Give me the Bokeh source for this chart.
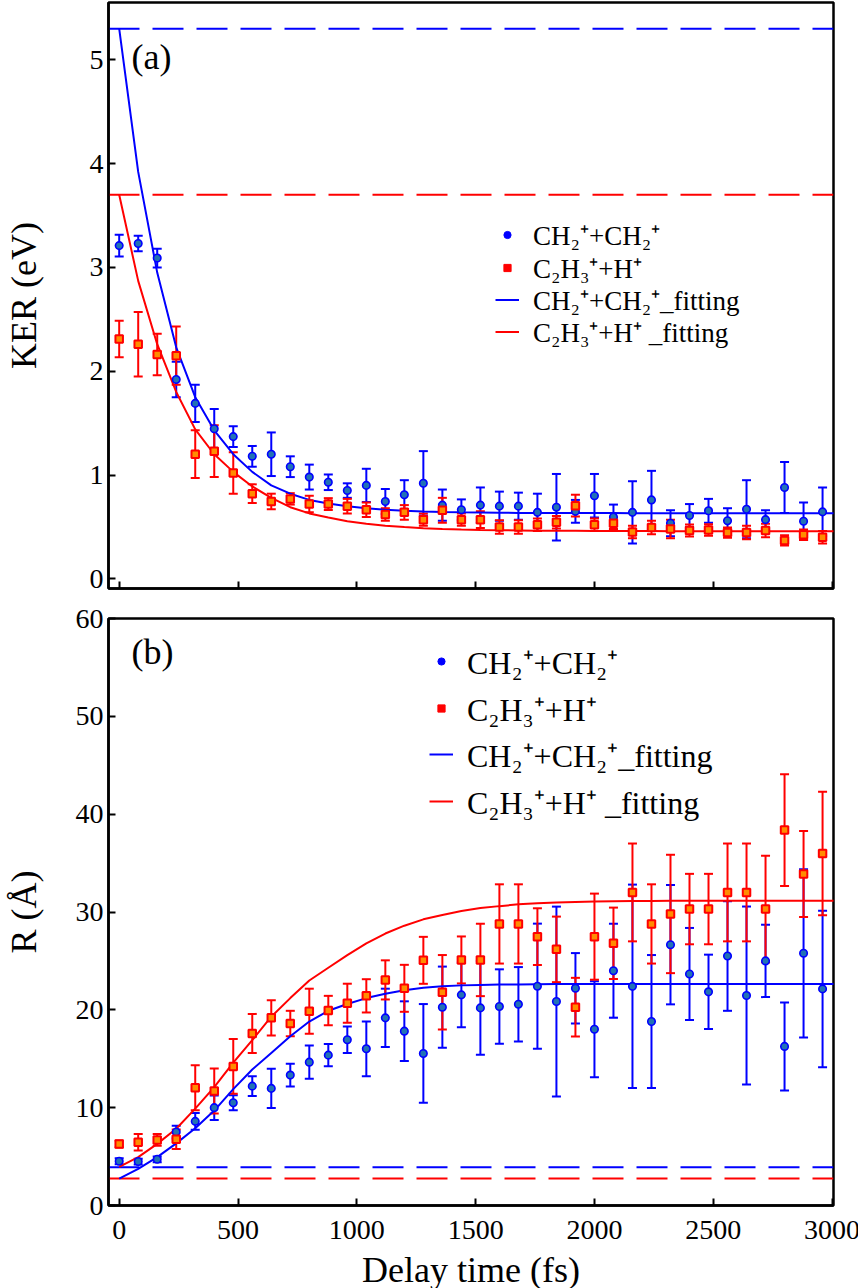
from bokeh.plotting import figure
from bokeh.layouts import column
from bokeh.models import (ColumnDataSource, Whisker, TeeHead, Span, Legend,
                          LegendItem, Label, Range1d, FixedTicker)
from bokeh.embed import file_html
from bokeh.resources import INLINE

# ---------------- data ----------------
time_fs = [0, 80, 160, 240, 320, 400, 480, 560, 640, 720, 800, 880, 960, 1040,
           1120, 1200, 1280, 1360, 1440, 1520, 1600, 1680, 1760, 1840, 1920,
           2000, 2080, 2160, 2240, 2320, 2400, 2480, 2560, 2640, 2720, 2800,
           2880, 2960]

ker_ch2 = [3.21, 3.23, 3.09, 1.92, 1.69, 1.445, 1.37, 1.18, 1.20, 1.08, 0.98,
           0.93, 0.85, 0.90, 0.745, 0.81, 0.92, 0.71, 0.665, 0.71, 0.70, 0.70,
           0.64, 0.69, 0.65, 0.80, 0.595, 0.64, 0.76, 0.535, 0.61, 0.655, 0.56,
           0.67, 0.57, 0.88, 0.555, 0.645]
ker_ch2_err = [0.105, 0.075, 0.09, 0.17, 0.18, 0.19, 0.10, 0.10, 0.21, 0.10,
               0.12, 0.075, 0.07, 0.16, 0.12, 0.14, 0.31, 0.15, 0.10, 0.17,
               0.14, 0.13, 0.18, 0.32, 0.11, 0.21, 0.12, 0.30, 0.28, 0.125,
               0.11, 0.115, 0.12, 0.28, 0.09, 0.245, 0.18, 0.235]
ker_c2h3 = [2.31, 2.26, 2.16, 2.15, 1.20, 1.23, 1.02, 0.82, 0.745, 0.77, 0.72,
            0.72, 0.70, 0.665, 0.62, 0.64, 0.57, 0.66, 0.57, 0.57, 0.50, 0.50,
            0.52, 0.545, 0.705, 0.52, 0.535, 0.45, 0.495, 0.48, 0.465, 0.47,
            0.445, 0.445, 0.465, 0.37, 0.425, 0.40]
ker_c2h3_err = [0.175, 0.31, 0.20, 0.28, 0.23, 0.25, 0.20, 0.09, 0.075, 0.055,
                0.08, 0.057, 0.07, 0.07, 0.06, 0.07, 0.06, 0.12, 0.06, 0.08,
                0.065, 0.065, 0.06, 0.06, 0.105, 0.06, 0.055, 0.06, 0.065,
                0.09, 0.058, 0.056, 0.05, 0.065, 0.065, 0.05, 0.05, 0.06]

r_ch2 = [4.52, 4.49, 4.72, 7.51, 8.6, 10.0, 10.51, 12.2, 11.97, 13.33, 14.65,
         15.37, 16.94, 16.02, 19.18, 17.82, 15.54, 20.27, 21.53, 20.2, 20.34,
         20.57, 22.41, 20.85, 22.2, 18.02, 24.0, 22.4, 18.8, 26.66, 23.67,
         21.84, 25.5, 21.46, 25.0, 16.26, 25.78, 22.14]
r_ch2_err = [0.3, 0.3, 0.3, 0.65, 0.85, 1.25, 0.77, 1.0, 2.0, 1.16, 1.7, 1.14,
             1.36, 2.8, 2.98, 3.05, 5.05, 4.15, 3.3, 4.8, 3.8, 3.8, 6.4, 9.7,
             3.6, 4.9, 4.8, 10.4, 6.8, 6.1, 4.7, 3.8, 5.6, 9.1, 3.7, 4.5, 8.6,
             8.0]
r_c2h3 = [6.29, 6.46, 6.7, 6.77, 12.04, 11.7, 14.21, 17.58, 19.18, 18.6, 19.86,
          19.93, 20.67, 21.43, 23.06, 22.2, 25.06, 21.8, 25.1, 25.1, 28.78,
          28.78, 27.48, 26.18, 20.27, 27.48, 26.8, 32.0, 28.78, 29.8, 30.3,
          30.3, 32.0, 32.0, 30.3, 38.37, 33.88, 35.98]
r_c2h3_err = [0.35, 0.85, 0.6, 1.0, 2.3, 2.3, 2.8, 2.0, 1.8, 1.3, 2.3, 1.5, 2.0,
              1.7, 2.0, 2.4, 2.4, 3.8, 2.4, 3.7, 4.05, 4.05, 2.9, 3.35, 3.0,
              4.4, 3.65, 5.0, 4.05, 6.05, 3.6, 3.6, 5.0, 5.0, 5.45, 5.7, 4.4,
              6.3]

fit_time = time_fs + [3040]
ker_ch2_fit = [5.30, 3.92, 2.95, 2.23, 1.75, 1.43, 1.20, 1.03, 0.90, 0.82, 0.76,
               0.725, 0.70, 0.68, 0.665, 0.655, 0.648, 0.643, 0.640, 0.638,
               0.636, 0.635, 0.634, 0.634, 0.633, 0.633, 0.633, 0.632, 0.632,
               0.632, 0.632, 0.632, 0.632, 0.632, 0.632, 0.632, 0.632, 0.632,
               0.632]
ker_c2h3_fit = [3.70, 2.87, 2.26, 1.80, 1.44, 1.20, 1.03, 0.89, 0.78, 0.69,
                0.63, 0.59, 0.555, 0.53, 0.512, 0.498, 0.488, 0.481, 0.475,
                0.471, 0.468, 0.466, 0.464, 0.463, 0.462, 0.461, 0.460, 0.460,
                0.460, 0.459, 0.459, 0.459, 0.459, 0.459, 0.459, 0.459, 0.459,
                0.459, 0.459]
r_ch2_fit = [2.75, 3.75, 4.95, 6.35, 7.9, 9.7, 11.9, 13.9, 15.6, 17.3, 18.8,
             19.9, 20.6, 21.2, 21.65, 22.0, 22.25, 22.4, 22.5, 22.55, 22.58,
             22.6, 22.62, 22.63, 22.64, 22.64, 22.65, 22.65, 22.65, 22.65,
             22.65, 22.65, 22.65, 22.65, 22.65, 22.65, 22.65, 22.65, 22.65]
r_c2h3_fit = [3.95, 4.95, 6.3, 7.85, 9.9, 12.1, 14.6, 16.9, 19.3, 21.2, 23.0,
              24.3, 25.6, 26.8, 27.8, 28.6, 29.25, 29.7, 30.1, 30.4, 30.6,
              30.78, 30.9, 30.98, 31.03, 31.07, 31.1, 31.12, 31.13, 31.14,
              31.15, 31.15, 31.15, 31.15, 31.15, 31.15, 31.15, 31.15, 31.15]

ker_limit_ch2 = 5.3
ker_limit_c2h3 = 3.7
r_limit_ch2 = 3.9
r_limit_c2h3 = 2.75

labels = ["CH\u2082\u207a+CH\u2082\u207a",
          "C\u2082H\u2083\u207a+H\u207a",
          "CH\u2082\u207a+CH\u2082\u207a_fitting",
          "C\u2082H\u2083\u207a+H\u207a _fitting"]
x_ticks = [0, 500, 1000, 1500, 2000, 2500, 3000]

# ---------------- style ----------------
FONT = "Liberation Serif"
BLUE = "#0000ff"
RED = "#ff0000"
BLUE_FILL = "#2272b4"
ORANGE = "#ff8c00"
NAN = float("nan")


def legend_row(p, renderer, label, x, vy, gw, standoff, row_h, font_size):
    p.add_layout(Legend(items=[LegendItem(label=label, renderers=[renderer])],
                        location=(x, vy), orientation="vertical",
                        glyph_width=gw, glyph_height=row_h, label_height=row_h,
                        label_standoff=standoff, spacing=0, padding=0, margin=0,
                        border_line_color=None, background_fill_alpha=0,
                        label_text_font=FONT, label_text_font_size=font_size,
                        label_text_color="black"))


def make_panel(y_rng, y_ticks, y_label, blue, blue_err, red, red_err,
               blue_fit, red_fit, lim_blue, lim_red, show_x, border_top,
               border_bottom, frame_h, y_label_standoff, leg_x, leg_centers,
               leg_font, row_h, tag, tag_xy):
    p = figure(frame_width=725, frame_height=frame_h,
               x_range=Range1d(-45, 3006), y_range=Range1d(*y_rng),
               output_backend="svg", toolbar_location=None,
               min_border_left=102, min_border_right=31,
               min_border_top=border_top, min_border_bottom=border_bottom,
               background_fill_color="white", border_fill_color="white")
    p.grid.grid_line_color = None
    p.outline_line_color = "black"
    p.outline_line_width = 2.5
    p.outline_line_alpha = 1

    for ax in (p.xaxis[0], p.yaxis[0]):
        ax.axis_line_width = 2.5
        ax.axis_line_color = "black"
        ax.major_tick_in = 7
        ax.major_tick_out = 0
        ax.major_tick_line_width = 2
        ax.major_tick_line_color = "black"
        ax.minor_tick_line_color = None
        ax.major_label_text_font = FONT
        ax.major_label_text_font_size = "28px"
        ax.major_label_text_color = "black"
        ax.axis_label_text_font = FONT
        ax.axis_label_text_font_size = "36px"
        ax.axis_label_text_font_style = "normal"
        ax.axis_label_text_color = "black"
    p.xaxis.ticker = FixedTicker(ticks=x_ticks)
    p.yaxis.ticker = FixedTicker(ticks=y_ticks)
    p.yaxis.axis_label = y_label
    p.yaxis.axis_label_standoff = y_label_standoff
    if show_x:
        p.xaxis.axis_label = "Delay time (fs)"
        p.xaxis.major_label_standoff = 15
        p.xaxis.axis_label_standoff = 8
    else:
        p.xaxis.major_label_text_font_size = "0px"
        p.xaxis.major_label_text_color = None
        p.xaxis.major_label_standoff = 0

    # dashed limits
    for loc, col in ((lim_blue, BLUE), (lim_red, RED)):
        p.add_layout(Span(location=loc, dimension="width", line_color=col,
                          line_width=2, line_dash="31 13", level="underlay"))

    # fits
    r_fit_b = p.line(fit_time, blue_fit, line_color=BLUE, line_width=2)
    r_fit_r = p.line(fit_time, red_fit, line_color=RED, line_width=2)

    # error bars + points
    src_b = ColumnDataSource(dict(
        x=time_fs, y=blue,
        upper=[v + e for v, e in zip(blue, blue_err)],
        lower=[v - e for v, e in zip(blue, blue_err)]))
    src_r = ColumnDataSource(dict(
        x=time_fs, y=red,
        upper=[v + e for v, e in zip(red, red_err)],
        lower=[v - e for v, e in zip(red, red_err)]))
    for src, col in ((src_b, BLUE), (src_r, RED)):
        p.add_layout(Whisker(source=src, base="x", upper="upper", lower="lower",
                             line_color=col, line_width=2, level="underlay",
                             upper_head=TeeHead(size=9, line_color=col, line_width=2),
                             lower_head=TeeHead(size=9, line_color=col, line_width=2)))
    p.scatter("x", "y", source=src_b, marker="circle", size=7.5,
              fill_color=BLUE_FILL, line_color=BLUE, line_width=1.6)
    p.scatter("x", "y", source=src_r, marker="square", size=7.5,
              fill_color=ORANGE, line_color=RED, line_width=2)

    # legend proxies (not drawn in the plot: NaN position)
    prox_b = p.scatter(x=[NAN], y=[NAN], marker="circle", fill_color=BLUE,
                       line_color=BLUE)
    prox_r = p.scatter(x=[NAN], y=[NAN], marker="square", fill_color=RED,
                       line_color=RED)
    # frame-relative: vy = distance from frame bottom to the row's bottom
    fb = frame_h
    rows = [(prox_b, 18, 17, 3), (prox_r, 18, 17, 3),
            (r_fit_b, 24, 14, 0), (r_fit_r, 24, 14, 0)]
    for (rend, gw, so, dx), lab, c in zip(rows, labels, leg_centers):
        legend_row(p, rend, lab, leg_x + dx, c - row_h / 2, gw, so, row_h,
                   leg_font)

    p.add_layout(Label(x=tag_xy[0], y=tag_xy[1], x_units="screen",
                       y_units="screen", text=tag, text_font=FONT,
                       text_font_size="36px", text_baseline="middle",
                       text_color="black"))
    return p


# legend row centres given as heights above the frame bottom (pixels)
pa = make_panel((-0.0934, 5.552), [0, 1, 2, 3, 4, 5], "KER (eV)",
                ker_ch2, ker_ch2_err, ker_c2h3, ker_c2h3_err,
                ker_ch2_fit, ker_c2h3_fit, ker_limit_ch2, ker_limit_c2h3,
                False, 2, 15, 586, 43, 387, (351, 318, 286, 254),
                "27px", 31, "(a)", (23, 532))
pb = make_panel((0, 60), [0, 10, 20, 30, 40, 50, 60], "R (\u00c5)",
                r_ch2, r_ch2_err, r_c2h3, r_c2h3_err,
                r_ch2_fit, r_c2h3_fit, r_limit_ch2, r_limit_c2h3,
                True, 15, 60, 587, 29, 321, (544, 497, 451, 404),
                "32px", 44, "(b)", (23, 554))

layout = column(pa, pb, spacing=0)
open("out.html", "w").write(file_html(layout, INLINE))
